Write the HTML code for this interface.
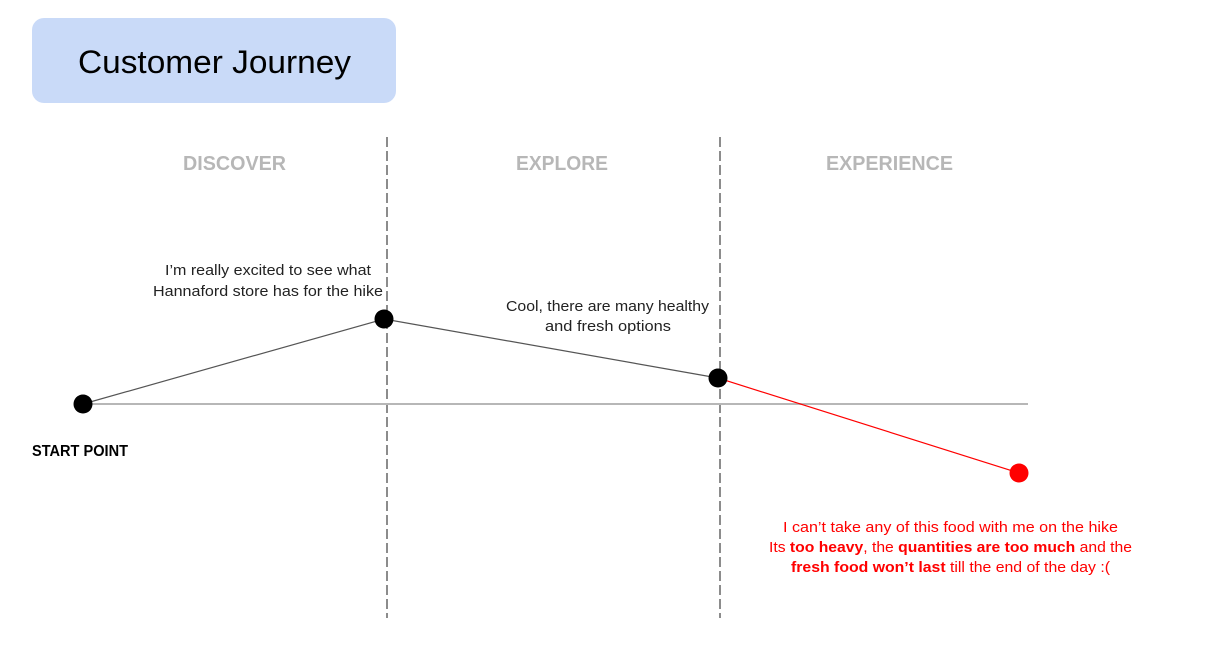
<!DOCTYPE html>
<html><head><meta charset="utf-8"><style>html,body{margin:0;padding:0;background:#fff;}svg{display:block}</style></head>
<body>
<svg width="1206" height="672" viewBox="0 0 1206 672" xmlns="http://www.w3.org/2000/svg" font-family="'Liberation Sans', sans-serif">
<rect x="32" y="18" width="364" height="85" rx="12" fill="#c9daf8"/>
<text x="78" y="73" font-size="32" textLength="273" lengthAdjust="spacingAndGlyphs" fill="#000">Customer Journey</text>
<g fill="#b7b7b7" font-weight="bold" font-size="20">
<text x="183" y="170" textLength="103" lengthAdjust="spacingAndGlyphs">DISCOVER</text>
<text x="516" y="170" textLength="92" lengthAdjust="spacingAndGlyphs">EXPLORE</text>
<text x="826" y="170" textLength="127" lengthAdjust="spacingAndGlyphs">EXPERIENCE</text>
</g>
<g stroke="#666" stroke-width="1.5" stroke-dasharray="10,4">
<line x1="387" y1="137" x2="387" y2="618"/>
<line x1="720" y1="137" x2="720" y2="618"/>
</g>
<line x1="83" y1="404" x2="1028" y2="404" stroke="#b7b7b7" stroke-width="2"/>
<polyline points="83,404 384,319 718,378" fill="none" stroke="#555" stroke-width="1.2"/>
<line x1="718" y1="378" x2="1019" y2="473" stroke="#ff0000" stroke-width="1.2"/>
<circle cx="83" cy="404" r="9.5" fill="#000"/>
<circle cx="384" cy="319" r="9.5" fill="#000"/>
<circle cx="718" cy="378" r="9.5" fill="#000"/>
<circle cx="1019" cy="473" r="9.5" fill="#ff0000"/>
<text x="32" y="456" font-size="16" font-weight="bold" textLength="96" lengthAdjust="spacingAndGlyphs">START POINT</text>
<g font-size="15" fill="#222">
<text x="165" y="275" textLength="206" lengthAdjust="spacingAndGlyphs">I’m really excited to see what</text>
<text x="153" y="296" textLength="230" lengthAdjust="spacingAndGlyphs">Hannaford store has for the hike</text>
<text x="506" y="311" textLength="203" lengthAdjust="spacingAndGlyphs">Cool, there are many healthy</text>
<text x="545" y="331" textLength="126" lengthAdjust="spacingAndGlyphs">and fresh options</text>
</g>
<g font-size="15" fill="#ff0000">
<text x="783" y="532" textLength="335" lengthAdjust="spacingAndGlyphs">I can’t take any of this food with me on the hike</text>
<text x="769" y="552" textLength="363" lengthAdjust="spacingAndGlyphs">Its <tspan font-weight="bold">too heavy</tspan>, the <tspan font-weight="bold">quantities are too much</tspan> and the</text>
<text x="791" y="572" textLength="319" lengthAdjust="spacingAndGlyphs"><tspan font-weight="bold">fresh food won’t last</tspan> till the end of the day :(</text>
</g>
</svg>
</body></html>
